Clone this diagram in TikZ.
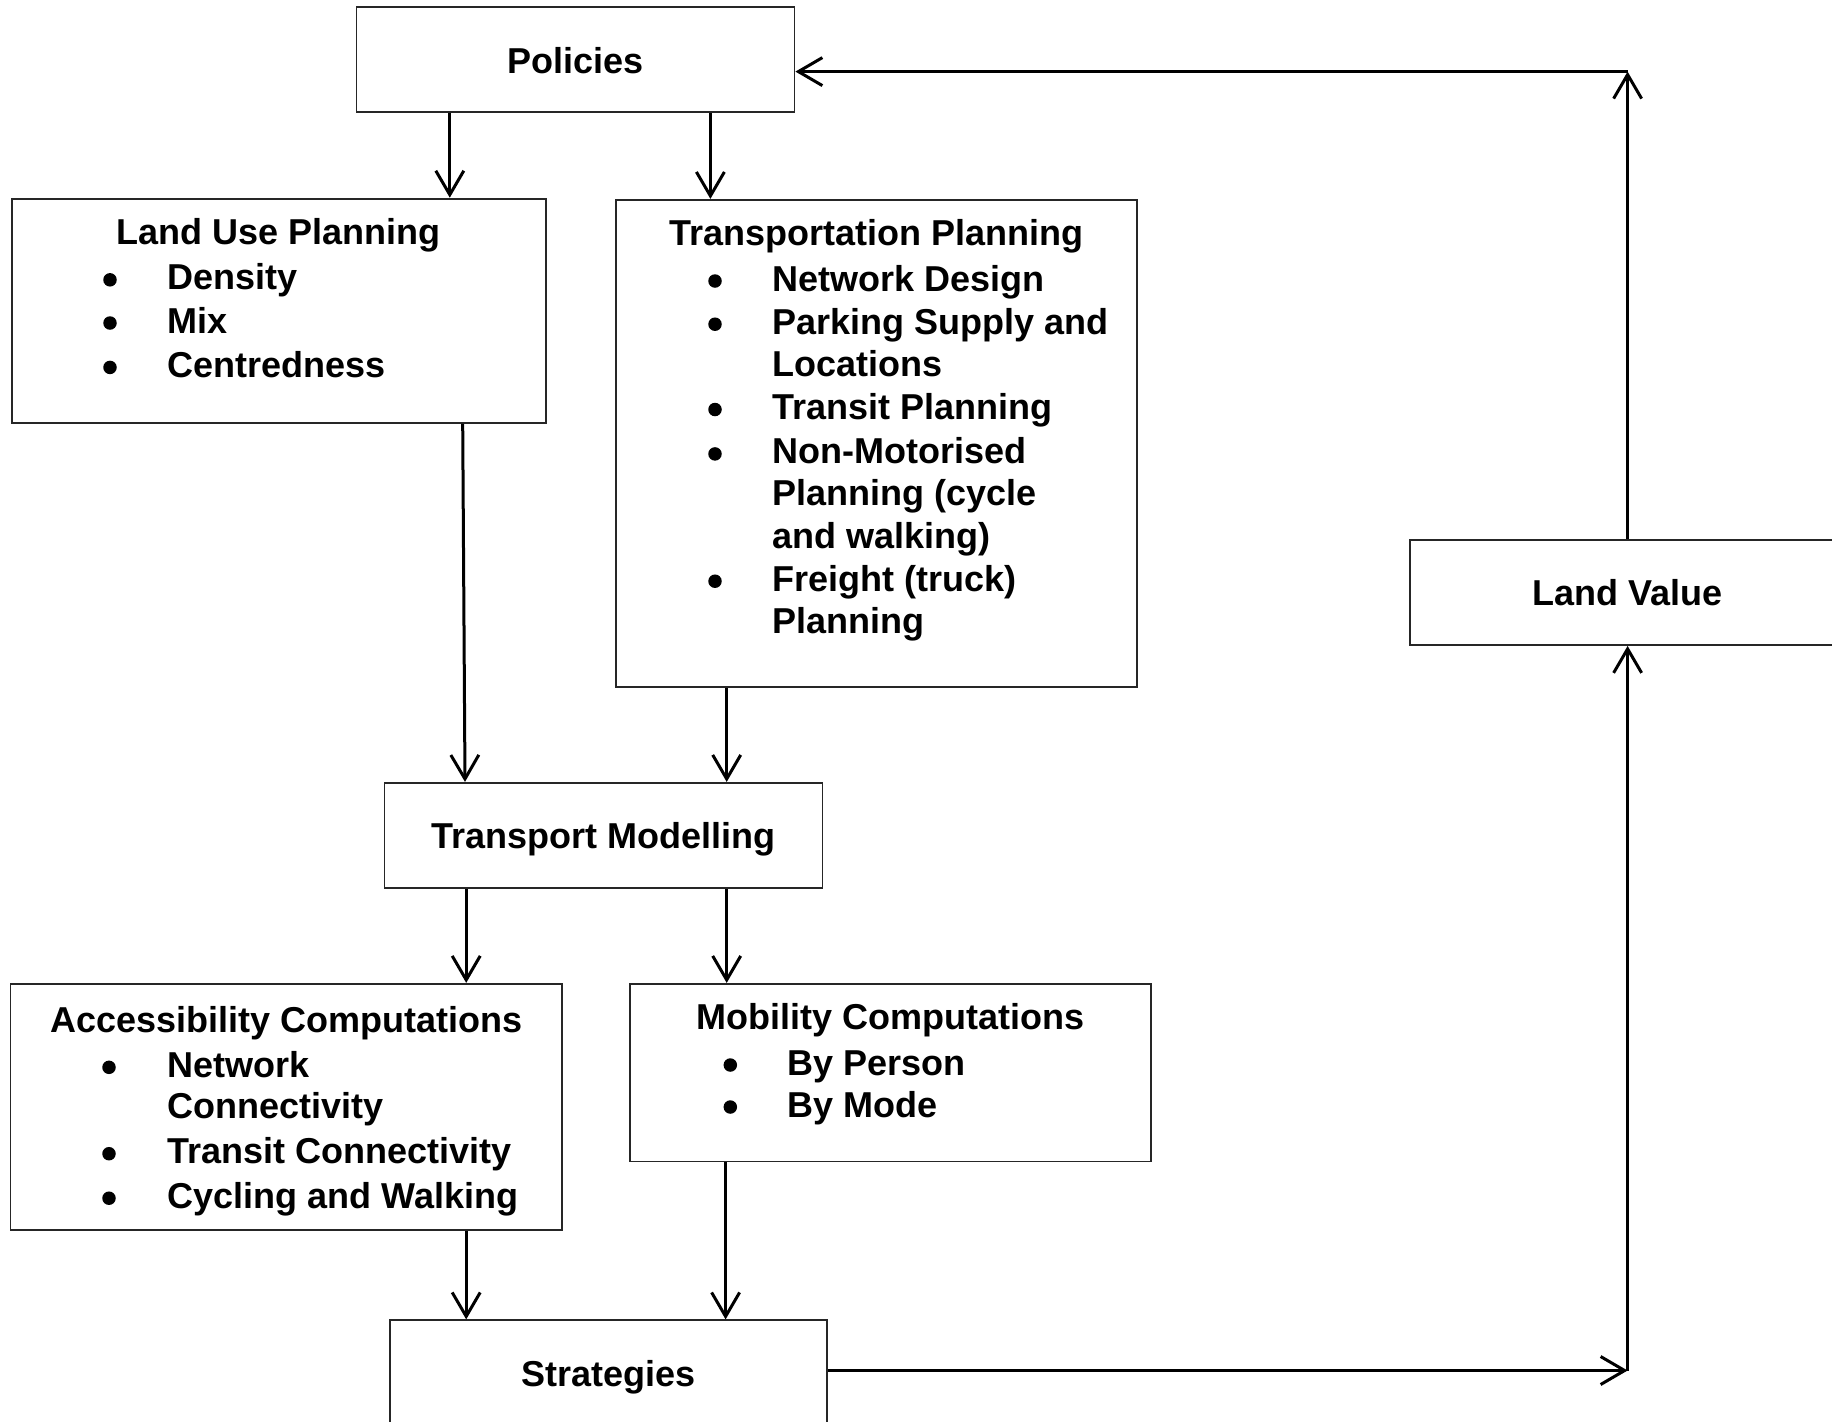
\documentclass[tikz,border=0pt]{standalone}
\usepackage{fontspec}
\setmainfont{Liberation Sans}
\usetikzlibrary{arrows.meta}
\begin{document}
\begin{tikzpicture}[x=1pt,y=-1pt,
  box/.style={draw=black!85, line width=1.8pt, inner sep=0pt, anchor=center,
    text height=27pt, text depth=0pt,
    font=\fontsize{36}{43}\selectfont\bfseries},
  txt/.style={inner sep=0pt, font=\fontsize{36}{43}\selectfont\bfseries},
  bul/.style={circle, fill=black, draw=none, inner sep=0pt, minimum size=13.5pt},
  arr/.style={line width=3pt, -{Straight Barb[length=24pt,width=28pt]}}
]
\path[use as bounding box, clip] (0,0) rectangle (1832,1422);

% boxes
\node[box, minimum width=438pt, minimum height=105pt] (pol) at (575.5,59.6) {Policies};
\node[box, minimum width=534pt, minimum height=224.4pt] (lu) at (278.6,310.8) {};
\node[box, minimum width=521pt, minimum height=487.2pt] (tp) at (876.5,443.4) {};
\node[box, minimum width=438pt, minimum height=105.2pt] (tm) at (603.5,835.4) {Transport Modelling};
\node[box, minimum width=551.5pt, minimum height=246.5pt] (ac) at (286.3,1107) {};
\node[box, minimum width=521pt, minimum height=177.6pt] (mo) at (890.3,1072.6) {};
\node[box, minimum width=437pt, minimum height=105pt] (st) at (608.7,1372.8) {Strategies};
\node[box, minimum width=436pt, minimum height=105.2pt] (lv) at (1627.6,592.4) {Land Value};

% Land Use Planning
\node[txt, anchor=base] (lut) at (278.6,244.2) {Land Use Planning};
\node[bul] (lub1) at (110,279.8) {};
\node[txt, anchor=base west] (lu1) at (167.1,289.8) {Density};
\node[bul] (lub2) at (110,323) {};
\node[txt, anchor=base west] (lu2) at (167.1,333) {Mix};
\node[bul] (lub3) at (110,367.4) {};
\node[txt, anchor=base west] (lu3) at (167.1,377.4) {Centredness};

% Transportation Planning
\node[txt, anchor=base] (tpt) at (876.5,245.4) {Transportation Planning};
\node[bul] (tpb1) at (715,281) {};
\node[txt, anchor=base west] (tp1) at (772.3,291) {Network Design};
\node[bul] (tpb2) at (715,324.2) {};
\node[txt, anchor=base west] (tp2) at (772.3,334.2) {Parking Supply and};
\node[txt, anchor=base west] (tp3) at (772.3,376.3) {Locations};
\node[bul] (tpb3) at (715,409.5) {};
\node[txt, anchor=base west] (tp4) at (772.3,419.5) {Transit Planning};
\node[bul] (tpb4) at (715,453.9) {};
\node[txt, anchor=base west] (tp5) at (772.3,463.9) {Non-Motorised};
\node[txt, anchor=base west] (tp6) at (772.3,505.9) {Planning (cycle};
\node[txt, anchor=base west] (tp7) at (772.3,548) {and walking)};
\node[bul] (tpb5) at (715,581.2) {};
\node[txt, anchor=base west] (tp8) at (772.3,591.2) {Freight (truck)};
\node[txt, anchor=base west] (tp9) at (772.3,633.3) {Planning};

% Accessibility Computations
\node[txt, anchor=base] (act) at (286.3,1032.9) {Accessibility Computations};
\node[bul] (acb1) at (109,1067.3) {};
\node[txt, anchor=base west] (ac1) at (167.1,1077.3) {Network};
\node[txt, anchor=base west] (ac2) at (167.1,1118) {Connectivity};
\node[bul] (acb2) at (109,1153.7) {};
\node[txt, anchor=base west] (ac3) at (167.1,1163.7) {Transit Connectivity};
\node[bul] (acb3) at (109,1198.2) {};
\node[txt, anchor=base west] (ac4) at (167.1,1208.2) {Cycling and Walking};

% Mobility Computations
\node[txt, anchor=base] (mot) at (890.3,1029.4) {Mobility Computations};
\node[bul] (mob1) at (730.3,1065) {};
\node[txt, anchor=base west] (mo1) at (787.5,1075) {By Person};
\node[bul] (mob2) at (730.3,1107) {};
\node[txt, anchor=base west] (mo2) at (787.5,1117) {By Mode};

% connectors
\draw[arr] (449.8,0 |- pol.south) -- (449.8,0 |- lu.north);
\draw[arr] (710.4,0 |- pol.south) -- (710.4,0 |- tp.north);
\draw[arr] (462.7,0 |- lu.south) -- (465,0 |- tm.north);
\draw[arr] (726.7,0 |- tp.south) -- (726.7,0 |- tm.north);
\draw[arr] (466.2,0 |- tm.south) -- (466.2,0 |- ac.north);
\draw[arr] (726.7,0 |- tm.south) -- (726.7,0 |- mo.north);
\draw[arr] (466.2,0 |- ac.south) -- (466.2,0 |- st.north);
\draw[arr] (725.6,0 |- mo.south) -- (725.6,0 |- st.north);
\coordinate (c1) at (1627.6,1370.5);
\coordinate (c2) at (1627.6,71.6);
\draw[arr] (st.east |- c1) -- (c1);
\draw[arr] (c1) -- (lv.south);
\draw[arr] (lv.north) -- (c2);
\draw[arr] (c2) -- (pol.east |- c2);
\end{tikzpicture}
\end{document}
